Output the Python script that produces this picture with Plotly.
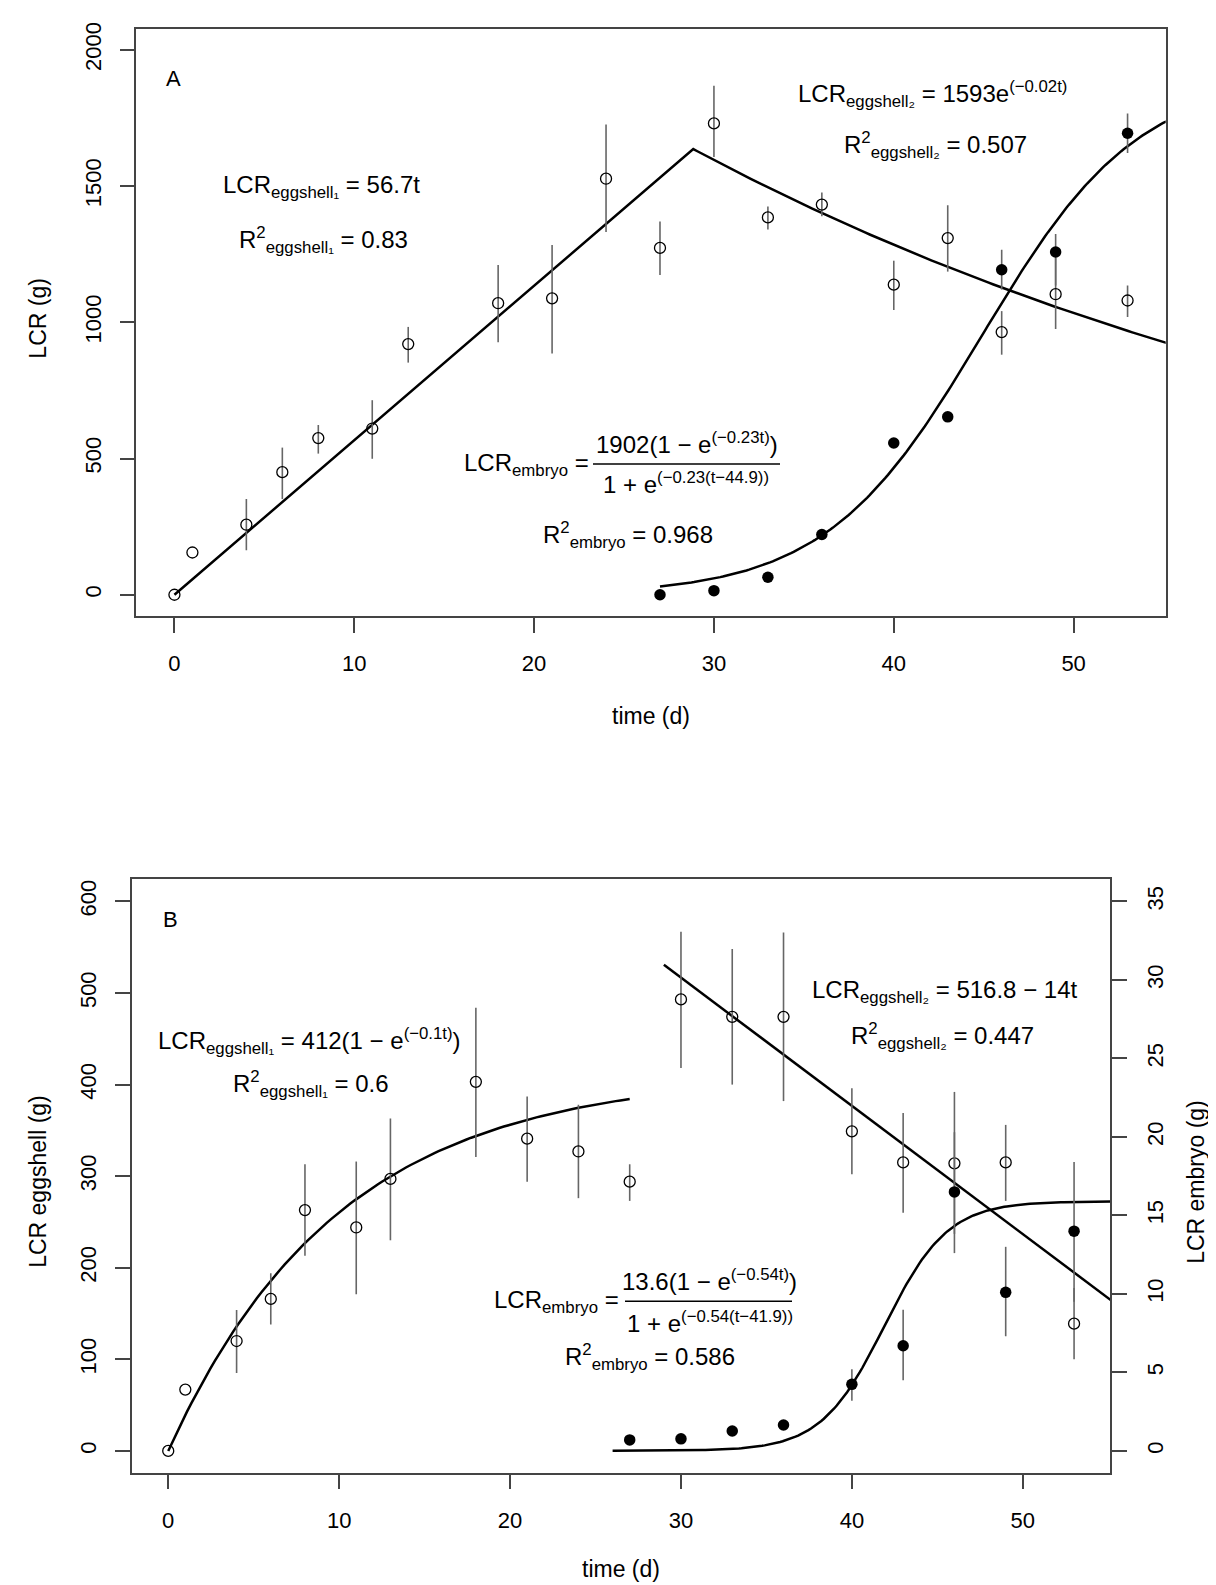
import numpy as np
import plotly.graph_objects as go

# ---------------- data ----------------
# Panel A
A_t_egg = [0, 1, 4, 6, 8, 11, 13, 18, 21, 24, 27, 30, 33, 36, 40, 43, 46, 49, 53]
A_egg = [0, 155, 257, 450, 575, 610, 920, 1070, 1088, 1527, 1273, 1730, 1385, 1432, 1138, 1309, 964, 1103, 1080]
A_egg_hi = [0, 155, 351, 540, 623, 714, 983, 1210, 1284, 1726, 1370, 1868, 1425, 1476, 1226, 1430, 1041, 1237, 1135]
A_egg_lo = [0, 155, 163, 351, 518, 499, 852, 927, 885, 1331, 1174, 1607, 1341, 1389, 1045, 1186, 881, 975, 1019]

A_t_emb = [27, 30, 33, 36, 40, 43, 46, 49, 53]
A_emb = [0, 15, 64, 221, 557, 653, 1193, 1258, 1694]
A_emb_hi = [0, 15, 64, 221, 557, 653, 1266, 1324, 1766]
A_emb_lo = [0, 15, 64, 221, 557, 653, 1120, 1135, 1621]

# Panel A fitted models (parameters)
A_e1_slope = 56.7
A_break_t = 28.85
A_e2_rate = 0.0217
A_emb_a, A_emb_k, A_emb_t0 = 1902, 0.23, 44.9
A_emb_start = 27

# Panel B
B_t_egg = [0, 1, 4, 6, 8, 11, 13, 18, 21, 24, 27, 30, 33, 36, 40, 43, 46, 49, 53]
B_egg = [0, 67, 120, 166, 263, 244, 297, 403, 341, 327, 294, 493, 474, 474, 349, 315, 314, 315, 139]
B_egg_hi = [0, 67, 154, 194, 313, 316, 363, 484, 387, 378, 313, 567, 548, 566, 396, 369, 392, 356, 178]
B_egg_lo = [0, 67, 85, 138, 213, 171, 230, 321, 294, 276, 273, 418, 400, 382, 302, 260, 237, 273, 100]

B_t_emb = [27, 30, 33, 36, 40, 43, 46, 49, 53]
B_emb = [0.70, 0.77, 1.27, 1.65, 4.24, 6.7, 16.5, 10.1, 14.0]
B_emb_hi = [0.70, 0.77, 1.27, 1.65, 5.2, 9.0, 20.3, 13.0, 18.4]
B_emb_lo = [0.70, 0.77, 1.27, 1.65, 3.2, 4.5, 12.6, 7.3, 9.5]

# Panel B fitted models (parameters)
B_e1_a, B_e1_k, B_e1_end = 412, 0.1, 27
B_e2_a, B_e2_slope, B_e2_t0, B_e2_start = 516.8, 14, 30, 29
B_emb_a, B_emb_k, B_emb_t0, B_emb_start = 15.9, 0.54, 41.9, 26

X_TICKS = [0, 10, 20, 30, 40, 50]
A_Y_TICKS = [0, 500, 1000, 1500, 2000]
B_Y_TICKS = [0, 100, 200, 300, 400, 500, 600]
B_Y2_TICKS = [0, 5, 10, 15, 20, 25, 30, 35]

# ---------------- helpers ----------------
W, H = 1216, 1585
FONT = "Liberation Sans, Arial, sans-serif"
FRAME = "#444444"
ERRC = "#666666"


def px(x):
    return x / W


def py(y):
    return 1 - y / H


def err(vals, hi, lo):
    return dict(type="data", symmetric=False,
                array=[h - v for v, h in zip(vals, hi)],
                arrayminus=[v - l for v, l in zip(vals, lo)],
                color=ERRC, thickness=1.6, width=0)


fig = go.Figure()

# ---- Panel A curves ----
tA1 = np.linspace(0, A_break_t, 60)
tA2 = np.linspace(A_break_t, 56, 120)
eggA_t = np.concatenate([tA1, tA2])
eggA_y = np.concatenate([A_e1_slope * tA1,
                         A_e1_slope * A_break_t * np.exp(-A_e2_rate * (tA2 - A_break_t))])
fig.add_trace(go.Scatter(x=eggA_t, y=eggA_y, mode="lines", line=dict(color="black", width=2.5),
                         xaxis="x", yaxis="y", showlegend=False, hoverinfo="skip"))
tAe = np.linspace(A_emb_start, 56, 200)
embA = A_emb_a * (1 - np.exp(-A_emb_k * tAe)) / (1 + np.exp(-A_emb_k * (tAe - A_emb_t0)))
fig.add_trace(go.Scatter(x=tAe, y=embA, mode="lines", line=dict(color="black", width=2.5),
                         xaxis="x", yaxis="y", showlegend=False, hoverinfo="skip"))

# ---- Panel A points ----
fig.add_trace(go.Scatter(x=A_t_egg, y=A_egg, mode="markers",
                         marker=dict(symbol="circle-open", size=11, color="black", line=dict(width=1.3)),
                         error_y=err(A_egg, A_egg_hi, A_egg_lo), xaxis="x", yaxis="y", showlegend=False))
fig.add_trace(go.Scatter(x=A_t_emb, y=A_emb, mode="markers",
                         marker=dict(symbol="circle", size=11.5, color="black"),
                         error_y=err(A_emb, A_emb_hi, A_emb_lo), xaxis="x", yaxis="y", showlegend=False))

# ---- Panel B curves ----
tB1 = np.linspace(0, B_e1_end, 100)
fig.add_trace(go.Scatter(x=tB1, y=B_e1_a * (1 - np.exp(-B_e1_k * tB1)), mode="lines",
                         line=dict(color="black", width=2.5), xaxis="x2", yaxis="y3",
                         showlegend=False, hoverinfo="skip"))
tB2 = np.linspace(B_e2_start, 56, 50)
fig.add_trace(go.Scatter(x=tB2, y=B_e2_a - B_e2_slope * (tB2 - B_e2_t0), mode="lines",
                         line=dict(color="black", width=2.5), xaxis="x2", yaxis="y3",
                         showlegend=False, hoverinfo="skip"))

# ---- Panel B points ----
fig.add_trace(go.Scatter(x=B_t_egg, y=B_egg, mode="markers",
                         marker=dict(symbol="circle-open", size=11, color="black", line=dict(width=1.3)),
                         error_y=err(B_egg, B_egg_hi, B_egg_lo), xaxis="x2", yaxis="y3", showlegend=False))

tBe = np.linspace(B_emb_start, 56, 200)
embB = B_emb_a * (1 - np.exp(-B_emb_k * tBe)) / (1 + np.exp(-B_emb_k * (tBe - B_emb_t0)))
fig.add_trace(go.Scatter(x=tBe, y=embB, mode="lines", line=dict(color="black", width=2.5),
                         xaxis="x2", yaxis="y4", showlegend=False, hoverinfo="skip"))
fig.add_trace(go.Scatter(x=B_t_emb, y=B_emb, mode="markers",
                         marker=dict(symbol="circle", size=11.5, color="black"),
                         error_y=err(B_emb, B_emb_hi, B_emb_lo), xaxis="x2", yaxis="y4", showlegend=False))

# ---------------- axes ----------------
tickfont = dict(family=FONT, size=22, color="black")
common = dict(showgrid=False, zeroline=False, showline=True, linecolor=FRAME, linewidth=1.5,
              ticks="outside", ticklen=15, tickwidth=1.5, tickcolor=FRAME, tickfont=tickfont)

fig.update_layout(
    width=W, height=H, margin=dict(l=0, r=0, t=0, b=0),
    paper_bgcolor="white", plot_bgcolor="white", showlegend=False,
    xaxis=dict(domain=[px(128.3), px(1157.7)], range=[-2.12, 55.12], anchor="y", mirror=True,
               tickvals=X_TICKS, ticklabelstandoff=12, **common),
    yaxis=dict(domain=[py(604), py(14.3)], range=[-79.3, 2075.6], anchor="x", mirror=True,
               tickvals=A_Y_TICKS, tickangle=-90, ticklabelstandoff=10, **common),
    xaxis2=dict(domain=[px(124), px(1102.3)], range=[-2.12, 55.12], anchor="y3", mirror=True,
                tickvals=X_TICKS, ticklabelstandoff=12, **common),
    yaxis3=dict(domain=[py(1464), py(868.3)], range=[-23.6, 624], anchor="x2", mirror=True,
                tickvals=B_Y_TICKS, tickangle=-90, ticklabelstandoff=10, **common),
    yaxis4=dict(range=[-1.377, 36.4], overlaying="y3", side="right", anchor="x2",
                tickvals=B_Y2_TICKS, tickangle=-90, ticklabelstandoff=10, **common),
)

# ---------------- text ----------------
ann = []


def T(text, x, y, size=24, xanchor="left", yanchor="middle", angle=0):
    ann.append(dict(text=text, x=px(x), y=py(y), xref="paper", yref="paper", showarrow=False,
                    xanchor=xanchor, yanchor=yanchor, textangle=angle,
                    font=dict(family=FONT, size=size, color="black")))


# axis titles
T("LCR (g)", 30, 305, size=23, xanchor="center", angle=-90)
T("time (d)", 643, 704, size=23, xanchor="center")
T("LCR eggshell (g)", 30, 1172, size=23, xanchor="center", angle=-90)
T("LCR embryo (g)", 1188, 1172, size=23, xanchor="center", angle=-90)
T("time (d)", 613, 1561, size=23, xanchor="center")

# Panel A
T("A", 156, 64, size=22)
T("LCR<sub>eggshell₁</sub> = 56.7t", 213, 172)
T("R<sup>2</sup><sub>eggshell₁</sub> = 0.83", 229, 226)
T("LCR<sub>eggshell₂</sub> = 1593e<sup>(−0.02t)</sup>", 788, 79)
T("R<sup>2</sup><sub>eggshell₂</sub> = 0.507", 834, 131)
T("LCR<sub>embryo</sub> =", 583, 451, xanchor="right")
T("1902(1 − e<sup>(−0.23t)</sup>)", 679, 430, xanchor="center")
T("1 + e<sup>(−0.23(t−44.9))</sup>", 678, 470, xanchor="center")
T("R<sup>2</sup><sub>embryo</sub> = 0.968", 533, 522)

# Panel B
T("B", 153, 909, size=22)
T("LCR<sub>eggshell₁</sub> = 412(1 − e<sup>(−0.1t)</sup>)", 148, 1031)
T("R<sup>2</sup><sub>eggshell₁</sub> = 0.6", 223, 1074)
T("LCR<sub>eggshell₂</sub> = 516.8 − 14t", 802, 981)
T("R<sup>2</sup><sub>eggshell₂</sub> = 0.447", 841, 1026)
T("LCR<sub>embryo</sub> =", 613, 1292, xanchor="right")
T("13.6(1 − e<sup>(−0.54t)</sup>)", 701, 1271, xanchor="center")
T("1 + e<sup>(−0.54(t−41.9))</sup>", 702, 1313, xanchor="center")
T("R<sup>2</sup><sub>embryo</sub> = 0.586", 555, 1348)

fig.update_layout(annotations=ann)

# fraction bars
fig.add_shape(type="line", xref="paper", yref="paper", x0=px(585), x1=px(772), y0=py(451), y1=py(451),
              line=dict(color="black", width=1.5))
fig.add_shape(type="line", xref="paper", yref="paper", x0=px(617), x1=px(784), y0=py(1292), y1=py(1292),
              line=dict(color="black", width=1.5))

fig.write_html("out.html")
